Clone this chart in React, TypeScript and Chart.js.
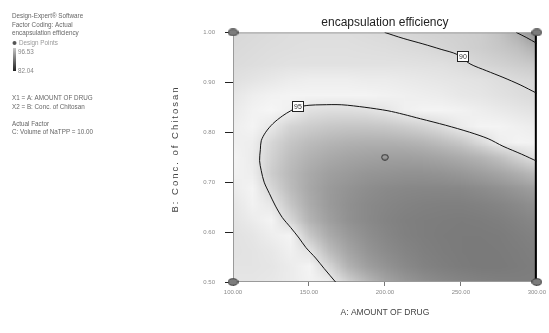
import React, { useEffect, useRef } from "react";
import { Chart, registerables } from "chart.js";
Chart.register(...registerables);

// ---- data ----
const amountTicks = [100, 150, 200, 250, 300];
const chitosanTicks = [0.5, 0.6, 0.7, 0.8, 0.9, 1.0];

const designA = [100, 300, 100, 300, 200];
const designB = [1.0, 1.0, 0.5, 0.5, 0.75];

const contour95A = [167.5, 160, 154.4, 148, 143.5, 138, 132.5, 128, 124.0, 120.5, 118.6, 117.5, 118.0, 118.6, 121.5, 126.2, 132.7, 138.0, 142.4, 150, 158.6, 171.6, 186.8, 202, 212, 223.4, 240, 255.8, 268, 277.7, 290, 300];
const contour95B = [0.50, 0.527, 0.548, 0.569, 0.588, 0.609, 0.629, 0.652, 0.677, 0.700, 0.723, 0.743, 0.765, 0.783, 0.800, 0.817, 0.833, 0.843, 0.850, 0.854, 0.855, 0.855, 0.850, 0.843, 0.836, 0.827, 0.814, 0.800, 0.787, 0.772, 0.756, 0.742];

const contour90A = [199.8, 212, 225, 237, 247.4, 256.0, 267, 277.7, 289, 300];
const contour90B = [1.0, 0.988, 0.977, 0.966, 0.956, 0.937, 0.923, 0.910, 0.895, 0.878];

const contour85A = [286.4, 293, 300];
const contour85B = [1.0, 0.99, 0.978];

const contourLabels = ["95", "90"];
const labelA = [142.4, 251];
const labelB = [0.852, 0.952];

// shading grid (gray level 0-255), rows = gridB (top to bottom), cols = gridA
const gridA = [100, 112.5, 125, 137.5, 150, 162.5, 175, 187.5, 200, 212.5, 225, 237.5, 250, 262.5, 275, 287.5, 300];
const gridB = [1.0, 0.96875, 0.9375, 0.90625, 0.875, 0.84375, 0.8125, 0.78125, 0.75, 0.71875, 0.6875, 0.65625, 0.625, 0.59375, 0.5625, 0.53125, 0.5];
const shadeGrid = [
  [216, 218, 220, 222, 222, 222, 222, 220, 218, 215, 212, 210, 208, 205, 195, 175, 140],
  [218, 220, 222, 223, 224, 224, 224, 223, 222, 220, 218, 214, 210, 206, 200, 192, 175],
  [220, 222, 224, 226, 226, 226, 226, 226, 226, 226, 225, 224, 220, 214, 210, 205, 200],
  [224, 228, 232, 236, 238, 238, 238, 236, 236, 234, 232, 230, 228, 226, 222, 218, 214],
  [230, 238, 242, 244, 244, 244, 244, 244, 242, 240, 238, 236, 232, 230, 226, 222, 218],
  [234, 242, 246, 240, 225, 222, 222, 224, 230, 240, 244, 244, 242, 238, 234, 230, 226],
  [238, 244, 232, 212, 205, 200, 198, 198, 200, 205, 212, 222, 236, 244, 244, 240, 236],
  [240, 238, 215, 198, 188, 182, 178, 176, 176, 178, 182, 190, 200, 218, 238, 244, 242],
  [244, 236, 210, 190, 178, 170, 165, 162, 160, 160, 162, 166, 172, 180, 192, 210, 228],
  [242, 238, 205, 185, 170, 160, 155, 150, 148, 146, 146, 148, 152, 158, 165, 175, 188],
  [236, 244, 215, 188, 168, 155, 148, 142, 138, 136, 135, 135, 136, 140, 145, 152, 160],
  [230, 242, 232, 198, 172, 155, 145, 138, 134, 131, 129, 128, 128, 130, 133, 138, 145],
  [228, 236, 244, 215, 180, 160, 146, 138, 132, 128, 126, 125, 124, 125, 127, 131, 136],
  [226, 230, 238, 244, 200, 172, 155, 143, 135, 129, 126, 124, 123, 123, 124, 127, 131],
  [226, 228, 232, 240, 228, 190, 166, 150, 140, 133, 128, 125, 123, 122, 123, 125, 128],
  [228, 228, 230, 236, 244, 215, 180, 160, 148, 138, 131, 127, 124, 122, 122, 124, 126],
  [230, 230, 232, 236, 242, 240, 210, 185, 165, 152, 143, 137, 133, 130, 128, 127, 127],
];

const legendLines = [
  "Design-Expert\u00AE Software",
  "Factor Coding: Actual",
  "encapsulation efficiency",
];
const designPointsLabel = "Design Points";
const rangeHigh = "96.53";
const rangeLow = "82.04";
const factorLines = ["X1 = A: AMOUNT OF DRUG", "X2 = B: Conc. of Chitosan"];
const actualLines = ["Actual Factor", "C: Volume of NaTPP = 10.00"];

const xTitle = "A: AMOUNT OF DRUG";
const yTitle = "B: Conc. of Chitosan";
const chartTitle = "encapsulation efficiency";

const FONT = "'Liberation Sans', Arial, sans-serif";

function makeEllipse(w: number, h: number, fill: string, stroke: string) {
  const c = document.createElement("canvas");
  c.width = w;
  c.height = h;
  const g = c.getContext("2d")!;
  g.beginPath();
  g.ellipse(w / 2, h / 2, w / 2 - 0.7, h / 2 - 0.7, 0, 0, Math.PI * 2);
  g.fillStyle = fill;
  g.fill();
  g.lineWidth = 1;
  g.strokeStyle = stroke;
  g.stroke();
  return c;
}

const shadePlugin = {
  id: "shade",
  beforeDatasetsDraw(chart: any) {
    const { ctx, chartArea, scales } = chart;
    const x = scales.x, y = scales.y;
    const cols = gridA.length, rows = gridB.length;
    const off = document.createElement("canvas");
    off.width = cols;
    off.height = rows;
    const octx = off.getContext("2d")!;
    const img = octx.createImageData(cols, rows);
    for (let r = 0; r < rows; r++) {
      for (let c = 0; c < cols; c++) {
        const g = shadeGrid[r][c];
        const i = (r * cols + c) * 4;
        img.data[i] = g;
        img.data[i + 1] = g;
        img.data[i + 2] = g;
        img.data[i + 3] = 255;
      }
    }
    octx.putImageData(img, 0, 0);
    const dA = (gridA[1] - gridA[0]) / 2;
    const dB = (gridB[0] - gridB[1]) / 2;
    const left = x.getPixelForValue(gridA[0] - dA);
    const right = x.getPixelForValue(gridA[cols - 1] + dA);
    const top = y.getPixelForValue(gridB[0] + dB);
    const bottom = y.getPixelForValue(gridB[rows - 1] - dB);
    ctx.save();
    ctx.beginPath();
    ctx.rect(chartArea.left, chartArea.top, chartArea.right - chartArea.left, chartArea.bottom - chartArea.top);
    ctx.clip();
    ctx.imageSmoothingEnabled = true;
    ctx.imageSmoothingQuality = "low";
    ctx.drawImage(off, left, top, right - left, bottom - top);
    ctx.restore();

    // frame
    ctx.save();
    ctx.strokeStyle = "#9a9a9a";
    ctx.lineWidth = 1;
    ctx.beginPath();
    ctx.moveTo(chartArea.right, chartArea.top + 0.5);
    ctx.lineTo(chartArea.left + 0.5, chartArea.top + 0.5);
    ctx.lineTo(chartArea.left + 0.5, chartArea.bottom - 0.5);
    ctx.lineTo(chartArea.right, chartArea.bottom - 0.5);
    ctx.stroke();
    ctx.strokeStyle = "#000";
    ctx.lineWidth = 2;
    ctx.beginPath();
    ctx.moveTo(chartArea.right - 1, chartArea.top);
    ctx.lineTo(chartArea.right - 1, chartArea.bottom);
    ctx.stroke();
    ctx.restore();
  },
  afterDatasetsDraw(chart: any) {
    const { ctx, scales } = chart;
    const x = scales.x, y = scales.y;
    ctx.save();
    ctx.font = `7px ${FONT}`;
    ctx.textAlign = "center";
    ctx.textBaseline = "middle";
    for (let i = 0; i < contourLabels.length; i++) {
      const px = x.getPixelForValue(labelA[i]);
      const py = y.getPixelForValue(labelB[i]);
      const w = 11, h = 10;
      const bx = Math.round(px - w / 2) + 0.5, by = Math.round(py - h / 2) + 0.5;
      ctx.fillStyle = "#fff";
      ctx.fillRect(bx, by, w, h);
      ctx.strokeStyle = "#222";
      ctx.lineWidth = 1;
      ctx.strokeRect(bx, by, w, h);
      ctx.fillStyle = "#333";
      ctx.fillText(contourLabels[i], bx + w / 2, by + h / 2 + 0.5);
    }
    ctx.restore();
  },
  afterDraw(chart: any) {
    const { ctx } = chart;
    ctx.save();
    // y title
    ctx.save();
    ctx.translate(175, 149);
    ctx.rotate(-Math.PI / 2);
    ctx.font = `9.5px ${FONT}`;
    (ctx as any).letterSpacing = "2px";
    ctx.fillStyle = "#444";
    ctx.textAlign = "center";
    ctx.textBaseline = "middle";
    ctx.fillText(yTitle, 0, 0);
    ctx.restore();

    // left info panel
    ctx.font = `6.3px ${FONT}`;
    ctx.fillStyle = "#666";
    ctx.textAlign = "left";
    ctx.textBaseline = "middle";
    const ys = [16, 25, 33];
    legendLines.forEach((t, i) => ctx.fillText(t, 12, ys[i]));
    // design point bullet
    ctx.beginPath();
    ctx.arc(14.5, 43, 2, 0, Math.PI * 2);
    ctx.fillStyle = "#555";
    ctx.fill();
    ctx.fillStyle = "#999";
    ctx.fillText(designPointsLabel, 19, 43);
    // color bar
    const grad = ctx.createLinearGradient(0, 48, 0, 71);
    grad.addColorStop(0, "#c8c8c8");
    grad.addColorStop(1, "#202020");
    ctx.fillStyle = grad;
    ctx.fillRect(13, 48, 3, 23);
    ctx.fillStyle = "#888";
    ctx.fillText(rangeHigh, 18, 52);
    ctx.fillText(rangeLow, 18, 71);
    ctx.fillStyle = "#666";
    factorLines.forEach((t, i) => ctx.fillText(t, 12, 98 + i * 9));
    actualLines.forEach((t, i) => ctx.fillText(t, 12, 124 + i * 8.5));
    ctx.restore();
  },
};

export default function App() {
  const ref = useRef<HTMLCanvasElement>(null);
  useEffect(() => {
    const lineStyle = {
      showLine: true,
      borderColor: "#111",
      borderWidth: 1,
      pointRadius: 0,
      fill: false,
      tension: 0.3,
    };
    const cornerImg = makeEllipse(11, 8, "#7c7c7c", "#3a3a3a");
    const centerImg = makeEllipse(8, 7, "#9a9a9a", "#2a2a2a");
    const chart = new Chart(ref.current!, {
      type: "scatter",
      data: {
        datasets: [
          { ...lineStyle, data: contour95A.map((a, i) => ({ x: a, y: contour95B[i] })) },
          { ...lineStyle, data: contour90A.map((a, i) => ({ x: a, y: contour90B[i] })) },
          { ...lineStyle, data: contour85A.map((a, i) => ({ x: a, y: contour85B[i] })) },
          {
            data: designA.map((a, i) => ({ x: a, y: designB[i] })),
            pointStyle: designA.map((_, i) => (i === 4 ? centerImg : cornerImg)) as any,
            pointRadius: 5,
            clip: false as any,
          } as any,
        ],
      },
      options: {
        responsive: false,
        animation: false,
        events: [],
        layout: { padding: { left: 160, right: 8, top: 0, bottom: 12 } },
        plugins: {
          legend: { display: false },
          tooltip: { enabled: false },
          title: {
            display: true,
            text: chartTitle,
            fullSize: false,
            color: "#222",
            font: { size: 12, family: FONT, weight: "normal" },
            padding: { top: 15, bottom: 3 },
          },
        },
        scales: {
          x: {
            type: "linear",
            min: 100,
            max: 300,
            afterBuildTicks: (s: any) => {
              s.ticks = amountTicks.map((v) => ({ value: v }));
            },
            afterFit: (s: any) => {
              s.height = 39;
            },
            ticks: {
              autoSkip: false,
              maxRotation: 0,
              padding: 3,
              color: "#8a8a8a",
              font: { size: 6, family: FONT },
              callback: (v: any) => Number(v).toFixed(2),
            },
            grid: { drawOnChartArea: false, tickLength: 4, color: "#777" },
            border: { display: false },
            title: {
              display: true,
              text: xTitle,
              color: "#444",
              font: { size: 8.5, family: FONT },
              padding: { top: 2, bottom: 3 },
            },
          },
          y: {
            type: "linear",
            min: 0.5,
            max: 1.0,
            afterBuildTicks: (s: any) => {
              s.ticks = chitosanTicks.map((v) => ({ value: v }));
            },
            afterFit: (s: any) => {
              s.width = 73;
            },
            ticks: {
              autoSkip: false,
              padding: 10,
              color: "#8a8a8a",
              font: { size: 6, family: FONT },
              callback: (v: any) => Number(v).toFixed(2),
            },
            grid: { drawOnChartArea: false, tickLength: 8, color: "#222" },
            border: { display: false },
            title: { display: false },
          },
        },
      },
      plugins: [shadePlugin],
    } as any);
    return () => chart.destroy();
  }, []);
  return (
    <div style={{ position: "absolute", left: 0, top: 0, width: 549, height: 333, background: "#fff" }}>
      <canvas ref={ref} width={549} height={333} style={{ display: "block" }} />
    </div>
  );
}
